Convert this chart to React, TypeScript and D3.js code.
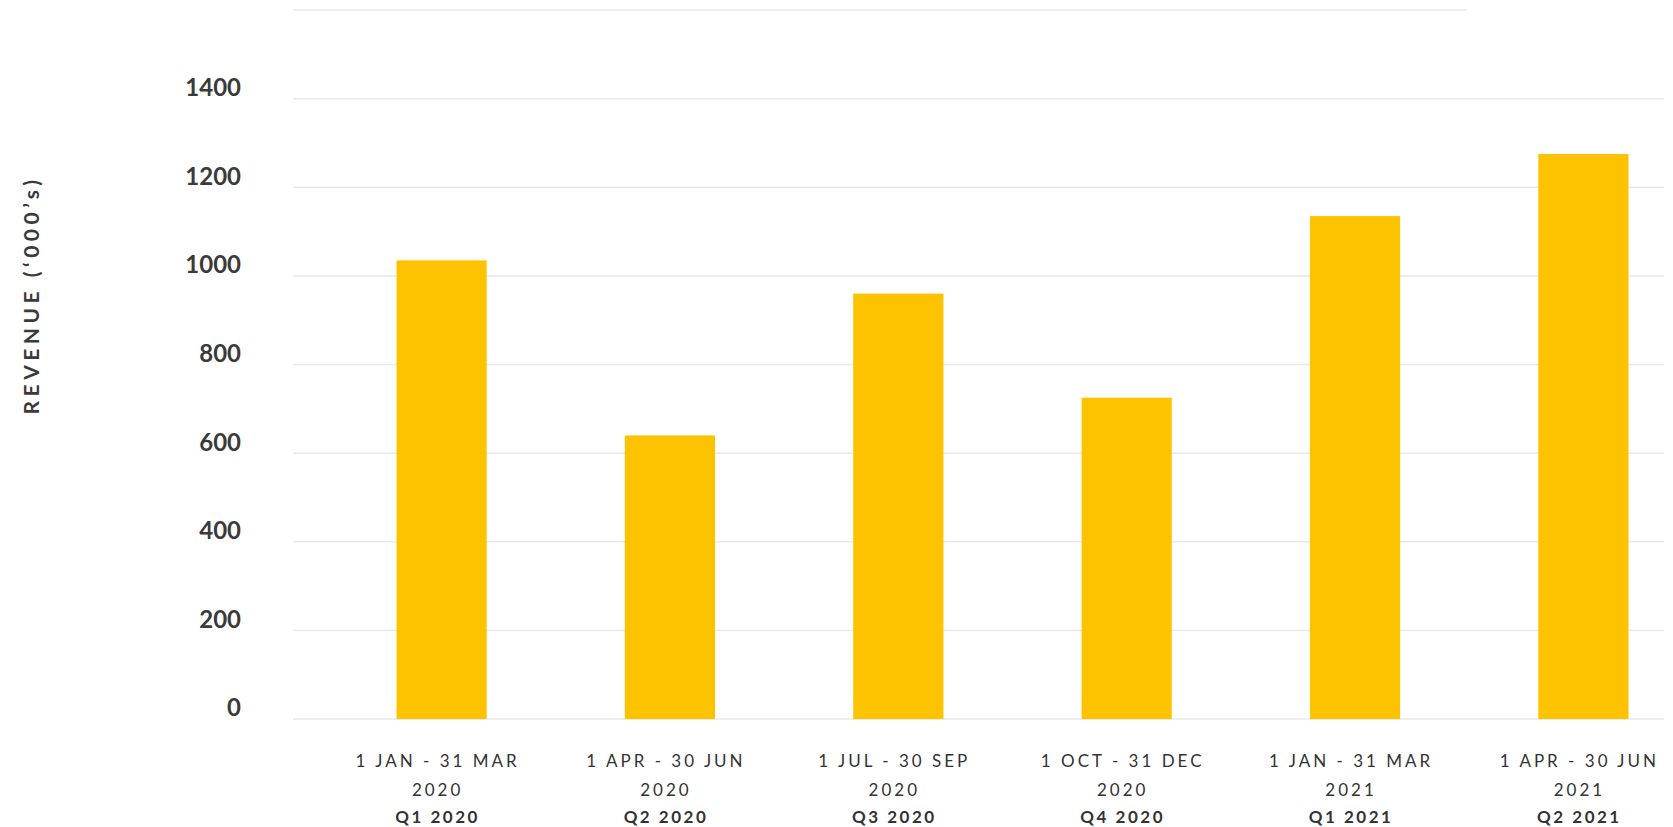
import { useEffect, useRef } from 'react';
import * as d3 from 'd3';

const quarters = ['Q1 2020', 'Q2 2020', 'Q3 2020', 'Q4 2020', 'Q1 2021', 'Q2 2021'];
const dateRanges = [
  '1 JAN - 31 MAR',
  '1 APR - 30 JUN',
  '1 JUL - 30 SEP',
  '1 OCT - 31 DEC',
  '1 JAN - 31 MAR',
  '1 APR - 30 JUN',
];
const years = ['2020', '2020', '2020', '2020', '2021', '2021'];
const revenue = [1035, 640, 960, 725, 1135, 1275];
const yTicks = [0, 200, 400, 600, 800, 1000, 1200, 1400];

const WIDTH = 1673;
const HEIGHT = 827;
const FONT = 'Lato, "Open Sans", sans-serif';

export default function App() {
  const svgRef = useRef<SVGSVGElement | null>(null);

  useEffect(() => {
    if (!svgRef.current) return;
    const svg = d3.select(svgRef.current);
    svg.selectAll('*').remove();

    const gridLeft = 293;
    const gridRight = 1664;

    const y = d3.scaleLinear().domain([0, 1600]).range([719, 10]);
    const x = d3
      .scaleBand<string>()
      .domain(quarters)
      .range([328, 1697])
      .paddingInner(0.605)
      .paddingOuter(0.3);

    // gridlines
    svg
      .append('g')
      .selectAll('line')
      .data(yTicks)
      .join('line')
      .attr('x1', gridLeft)
      .attr('x2', gridRight)
      .attr('y1', (d) => y(d))
      .attr('y2', (d) => y(d))
      .attr('stroke', '#e9e9e9')
      .attr('stroke-width', 1.5);

    // top border line
    svg
      .append('line')
      .attr('x1', gridLeft)
      .attr('x2', 1467)
      .attr('y1', y(1600))
      .attr('y2', y(1600))
      .attr('stroke', '#e9e9e9')
      .attr('stroke-width', 1.5);

    // y tick labels
    svg
      .append('g')
      .selectAll('text')
      .data(yTicks)
      .join('text')
      .attr('x', 241)
      .attr('y', (d) => y(d) - 11)
      .attr('dy', '0.35em')
      .attr('text-anchor', 'end')
      .attr('font-family', FONT)
      .attr('font-weight', 700)
      .attr('font-size', 24)
      .attr('fill', '#3a3a3a')
      .text((d) => String(d));

    // y title
    svg
      .append('text')
      .attr('transform', `translate(32,295) rotate(-90)`)
      .attr('dy', '0.35em')
      .attr('text-anchor', 'middle')
      .attr('font-family', FONT)
      .attr('font-weight', 700)
      .attr('font-size', 21)
      .attr('letter-spacing', 4.5)
      .attr('fill', '#3a3a3a')
      .text('REVENUE (\u2018000\u2019s)');

    // bars
    svg
      .append('g')
      .selectAll('rect')
      .data(revenue)
      .join('rect')
      .attr('x', (_, i) => x(quarters[i]) ?? 0)
      .attr('width', x.bandwidth())
      .attr('y', (d) => y(d))
      .attr('height', (d) => y(0) - y(d))
      .attr('fill', '#fdc300');

    // x labels
    const labels = svg
      .append('g')
      .selectAll('g')
      .data(quarters)
      .join('g')
      .attr('transform', (d) => `translate(${(x(d) ?? 0) + x.bandwidth() / 2 - 4},0)`);

    labels
      .append('text')
      .attr('y', 761)
      .attr('dy', '0.35em')
      .attr('text-anchor', 'middle')
      .attr('font-family', FONT)
      .attr('font-size', 17)
      .attr('letter-spacing', 3)
      .attr('fill', '#333')
      .text((_, i) => dateRanges[i]);

    labels
      .append('text')
      .attr('y', 790)
      .attr('dy', '0.35em')
      .attr('text-anchor', 'middle')
      .attr('font-family', FONT)
      .attr('font-size', 17)
      .attr('letter-spacing', 3)
      .attr('fill', '#333')
      .text((_, i) => years[i]);

    labels
      .append('text')
      .attr('y', 817)
      .attr('dy', '0.35em')
      .attr('text-anchor', 'middle')
      .attr('font-family', FONT)
      .attr('font-weight', 700)
      .attr('font-size', 17)
      .attr('letter-spacing', 2.5)
      .attr('fill', '#333')
      .text((d) => d);
  }, []);

  return (
    <svg
      ref={svgRef}
      width={WIDTH}
      height={HEIGHT}
      style={{ position: 'absolute', left: 0, top: 0, display: 'block', background: '#fff' }}
    />
  );
}
